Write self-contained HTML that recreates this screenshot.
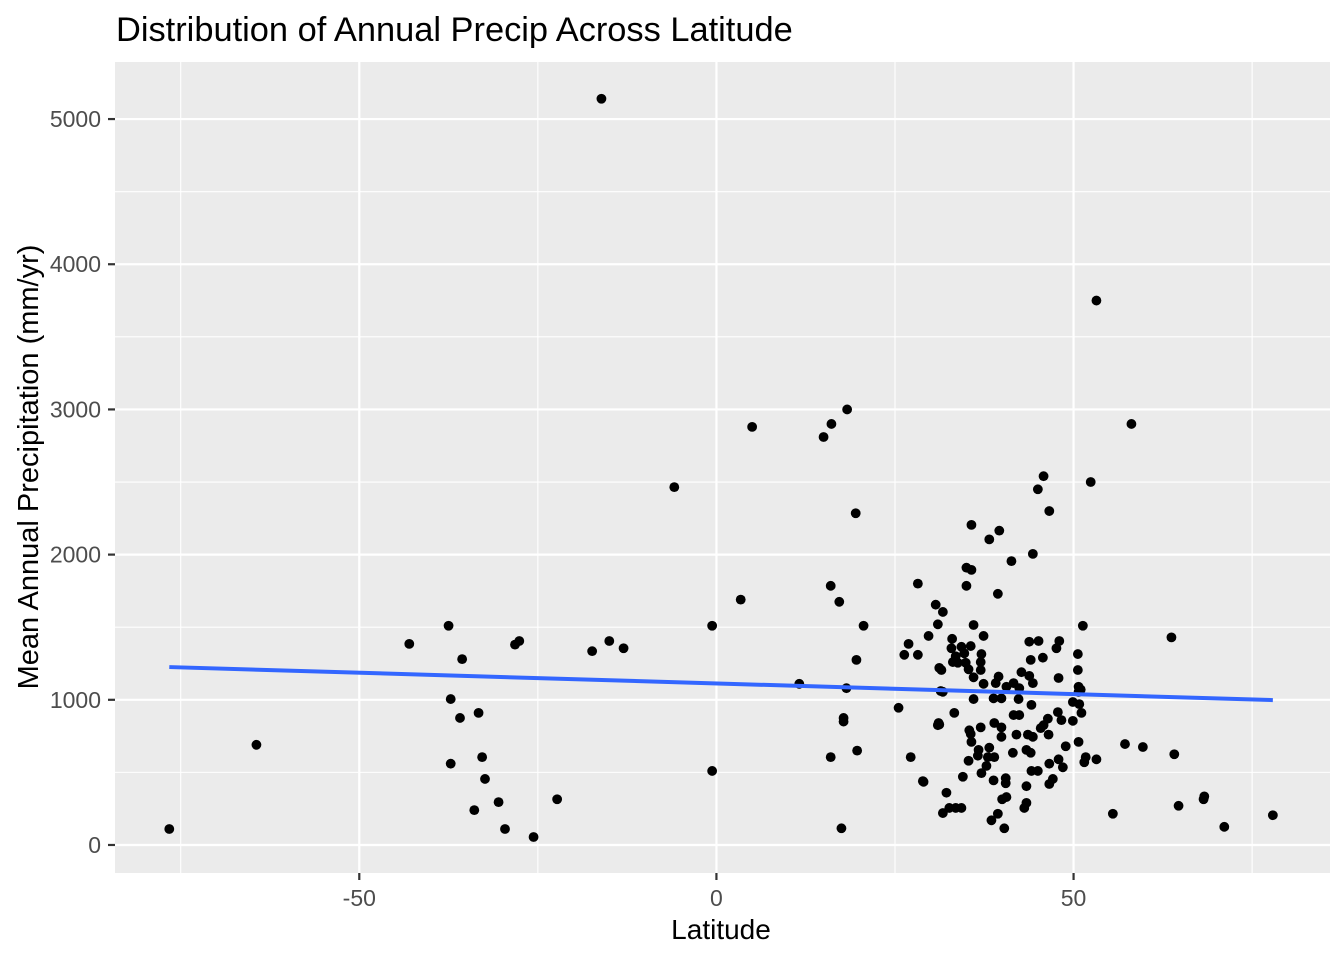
<!DOCTYPE html>
<html><head><meta charset="utf-8"><style>
html,body{margin:0;padding:0;background:#fff;}
svg{display:block;font-family:"Liberation Sans",Arial,sans-serif;}
</style></head><body>
<svg id="chart" width="1344" height="960" viewBox="0 0 1344 960">
<rect x="0" y="0" width="1344" height="960" fill="#fff"/>
<text x="116" y="41" font-size="34.4" fill="#000">Distribution of Annual Precip Across Latitude</text>
<text x="721" y="939" font-size="28" text-anchor="middle" fill="#000">Latitude</text>
<text transform="translate(38,467) rotate(-90)" font-size="29" text-anchor="middle" fill="#000">Mean Annual Precipitation (mm/yr)</text>
<g id="panel"></g>
</svg>
<script>
const latitude = [-76.6,-64.4,-43,-37.5,-37.2,-37.2,-35.6,-35.9,-33.3,-32.8,-32.4,-33.9,-30.5,-29.6,-25.6,-28.2,-27.6,-22.3,-17.4,-16.1,-15,-13,-5.9,-0.6,-0.6,3.4,5,11.6,15,16.1,18.3,16,17.2,16,17.8,17.8,17.5,18.2,19.5,19.6,19.7,20.6,25.5,26.3,26.9,27.2,28.2,28.2,28.9,29.7,30.7,31,31.2,31.2,31.7,31.7,
45.8,52.4,45,46.6,35.7,39.6,38.2,44.3,41.3,35,35.7,35,39.4,31,36,51.3,37.4,43.8,45.1,48,47.6,33,
32.9,34.3,35.6,33.5,34.7,37.1,45.7,44,50.6,33.1,33.8,34.9,37,31.5,35.3,37,36,42.7,43.8,44.3,50.6,47.9,37.4,39.5,39.1,40.6,41.6,42.4,31.4,50.7,50.7,38.8,39.9,42.3,36,49.9,44.1,33.3,51.1,47.8,48.3,49.9,41.6,42.4,31.1,38.9,39.9,37,35.4,35.6,35.7,39.9,42,43.6,44.3,45.8,46.4,45.4,46.5,48.9,50.7,36.7,38.2,43.4,44,41.5,36.6,38,38.9,35.3,51.7,53.2,51.5,46.6,47.9,48.5,37.8,37.1,34.5,44.1,45,29,38.8,40.5,40.5,47.1,46.6,43.4,32.2,40.6,40,43.4,43.1,34.3,33.5,32.6,31.7,55.5,39.4,38.5,40.3,
53.2,58.1,63.7,57.2,59.7,64.1,64.7,68.3,68.2,71.1,77.9,51,50.8];
const precip = [110,690,1385,1510,1005,560,1280,875,910,605,455,240,295,110,55,1380,1405,315,1335,5140,1405,1355,2465,1510,510,1690,2880,1110,2810,2900,3000,1785,1675,605,875,850,115,1080,2285,1275,650,1510,945,1310,1385,605,1800,1310,440,1440,1655,825,830,1220,1605,1055,
2540,2500,2450,2300,2205,2165,2105,2005,1955,1910,1895,1785,1730,1520,1515,1510,1440,1400,1405,1405,1355,1420,
1355,1365,1370,1300,1320,1315,1290,1275,1315,1260,1255,1255,1260,1205,1210,1205,1155,1190,1165,1115,1205,1150,1110,1160,1115,1090,1115,1080,1060,1090,1055,1010,1010,1005,1005,985,965,910,910,915,860,855,895,895,840,840,810,810,790,765,710,745,760,760,745,825,870,805,760,680,710,655,670,655,635,635,615,605,605,580,605,590,570,560,590,535,545,495,470,510,510,435,445,460,425,455,420,405,360,330,315,290,255,255,255,255,220,215,215,170,115,
3750,2900,1430,695,675,625,270,335,315,125,205,1070,970];
const xTicks = [-50,0,50];
const xTickLabels = ["-50","0","50"];
const xMinor = [-75,-25,25,75];
const yTicks = [0,1000,2000,3000,4000,5000];
const yTickLabels = ["0","1000","2000","3000","4000","5000"];
const yMinor = [500,1500,2500,3500,4500];

const P = {l:115, r:1330, t:62, b:873};
const xd = [-84.2, 85.9], yd = [-193, 5393];
const X = v => P.l + (v - xd[0]) / (xd[1] - xd[0]) * (P.r - P.l);
const Y = v => P.b - (v - yd[0]) / (yd[1] - yd[0]) * (P.b - P.t);
const NS = "http://www.w3.org/2000/svg";
const g = document.getElementById('panel');
function mk(tag, attrs, parent) {
  const e = document.createElementNS(NS, tag);
  for (const k in attrs) e.setAttribute(k, attrs[k]);
  (parent || g).appendChild(e);
  return e;
}
const bg = mk('rect', {x:P.l, y:P.t, width:P.r-P.l, height:P.b-P.t, fill:'#ebebeb'});


xMinor.forEach(v => {
  const l = mk('line', {x1:X(v), x2:X(v), y1:P.t, y2:P.b, stroke:'#fff', 'stroke-width':1.1});
  
  
});
yMinor.forEach(v => {
  const l = mk('line', {x1:P.l, x2:P.r, y1:Y(v), y2:Y(v), stroke:'#fff', 'stroke-width':1.1});
  
  
});
xTicks.forEach((v, i) => {
  const l = mk('line', {x1:X(v), x2:X(v), y1:P.t, y2:P.b, stroke:'#fff', 'stroke-width':2.2});
  
  
  const t = mk('line', {x1:X(v), x2:X(v), y1:P.b, y2:P.b+7, stroke:'#333', 'stroke-width':2.2});
  
  
  const tx = mk('text', {x:X(v), y:906, 'font-size':23, 'text-anchor':'middle', fill:'#4d4d4d'});
  tx.textContent = xTickLabels[i];
  
  
});
yTicks.forEach((v, i) => {
  const l = mk('line', {x1:P.l, x2:P.r, y1:Y(v), y2:Y(v), stroke:'#fff', 'stroke-width':2.2});
  
  
  const t = mk('line', {x1:P.l-7, x2:P.l, y1:Y(v), y2:Y(v), stroke:'#333', 'stroke-width':2.2});
  
  
  const tx = mk('text', {x:P.l-14, y:Y(v)+8, 'font-size':23, 'text-anchor':'end', fill:'#4d4d4d'});
  tx.textContent = yTickLabels[i];
  
  
});
latitude.forEach((v, i) => {
  const c = mk('circle', {cx:X(v), cy:Y(precip[i]), r:4.9, fill:'#000'});
  
  
});
// linear regression
const n = latitude.length;
const mx = latitude.reduce((a,b)=>a+b,0)/n, my = precip.reduce((a,b)=>a+b,0)/n;
let sxy = 0, sxx = 0;
latitude.forEach((v,i)=>{ sxy += (v-mx)*(precip[i]-my); sxx += (v-mx)*(v-mx); });
const slope = sxy/sxx, icpt = my - slope*mx;
const xmin = Math.min(...latitude), xmax = Math.max(...latitude);
const fit = mk('line', {x1:X(xmin), y1:Y(icpt+slope*xmin), x2:X(xmax), y2:Y(icpt+slope*xmax), stroke:'#3366ff', 'stroke-width':4});


</script>
</body></html>
